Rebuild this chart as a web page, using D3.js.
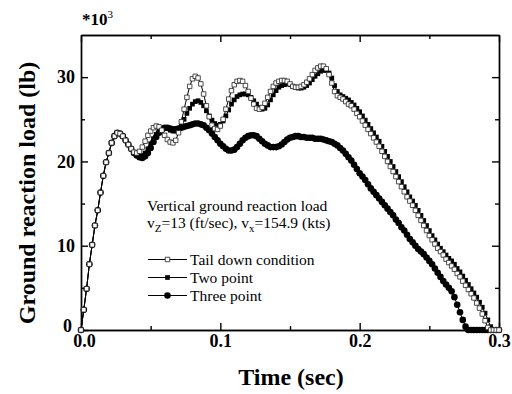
<!DOCTYPE html>
<html lang="en">
<head>
<meta charset="UTF-8">
<script src="https://d3js.org/d3.v7.min.js"></script>
<style>
body { margin: 0; background: #fff; }
svg { font-family: "Liberation Serif", "Times New Roman", serif; }
.axis path, .axis line { stroke: #000; stroke-width: 1.4; }
.axis text { font-family: "Liberation Serif", serif; font-size: 18px; font-weight: bold; fill: #000; }
.curve { fill: none; stroke: #000; stroke-width: 1; }
.note { font-size: 15.5px; fill: #000; }
.title { font-size: 24px; font-weight: bold; fill: #000; }
</style>
</head>
<body>
<svg class="chart" width="512" height="394"></svg>
<script>
// sample times in ms (shared by all three runs)
const timeMs = [
  0, 2, 4, 6, 8, 10, 12, 14, 16, 18, 20, 22, 24, 26, 28,
  30, 32, 34, 36, 38, 40, 42, 44, 46, 48, 50, 52, 54, 56, 58, 60,
  62, 64, 66, 68, 70, 72, 74, 76, 78, 80, 82, 84,
  86, 88, 90, 92, 94, 96, 98, 100, 102, 104, 106, 108,
  110, 112, 114, 116, 118, 120, 122, 124, 126, 128, 130, 132,
  134, 136, 138, 140, 142, 144, 146, 148, 150, 152, 154, 156,
  158, 160, 162, 164, 166, 168, 170, 172, 174, 176, 178, 180,
  182, 184, 186, 188, 190, 192, 194, 196, 198, 200, 202, 204,
  206, 208, 210, 212, 214, 216, 218, 220, 222, 224, 226, 228,
  230, 232, 234, 236, 238, 240, 242, 244, 246, 248, 250, 252,
  254, 256, 258, 260, 262, 264, 266, 268, 270, 272, 274, 276,
  278, 280, 282, 284, 286, 288, 290, 292, 294, 296, 298, 300
];

// loads in 10^3 lb
const tailDown = [
  0, 2.4, 4.9, 7.8, 10.1, 12.4, 14.2, 16.3, 18.3, 19.9, 21.0, 22.2, 23.0, 23.4, 23.3,
  23.0, 22.5, 22.0, 21.5, 21.1, 21.0, 21.2, 21.7, 22.4, 23.1, 23.6, 24.0, 24.2, 24.1, 23.7, 23.1,
  22.6, 22.3, 22.2, 22.5, 23.4, 24.7, 26.2, 27.6, 28.9, 29.8, 30.1, 29.9,
  29.2, 28.0, 26.6, 25.3, 24.3, 23.9, 23.8, 24.2, 25.0, 26.2, 27.4, 28.4,
  29.1, 29.5, 29.6, 29.5, 29.0, 28.3, 27.5, 26.8, 26.3, 26.2, 26.4, 26.9,
  27.6, 28.3, 28.9, 29.3, 29.5, 29.6, 29.6, 29.5, 29.2, 28.9, 28.8, 28.8,
  28.9, 29.1, 29.4, 29.8, 30.3, 30.8, 31.1, 31.3, 31.3, 31.0, 30.3, 29.3,
  28.3, 27.8, 27.6, 27.4, 27.1, 26.8, 26.6, 26.2, 25.7, 25.3, 24.8, 24.3,
  23.8, 23.3, 22.8, 22.3, 21.8, 21.2, 20.6, 20.0, 19.4, 18.8, 18.2, 17.6,
  17.0, 16.4, 15.8, 15.3, 14.8, 14.2, 13.6, 13.0, 12.4, 11.8, 11.2, 10.7,
  10.2, 9.7, 9.3, 8.9, 8.4, 8.0, 7.6, 7.2, 6.7, 6.3, 5.8, 5.3,
  4.8, 4.3, 3.8, 3.2, 2.6, 1.9, 1.1, 0.3, 0, 0, 0, 0
];
const twoPoint = [
  0, 2.4, 4.9, 7.8, 10.1, 12.4, 14.2, 16.3, 18.3, 19.9, 21.0, 22.2, 23.0, 23.4, 23.3,
  23.0, 22.5, 22.0, 21.5, 21.0, 20.7, 20.6, 20.7, 21.0, 21.5, 22.1, 22.7, 23.2, 23.6, 23.9, 24.0,
  23.9, 23.7, 23.6, 23.6, 23.9, 24.4, 25.0, 25.7, 26.3, 26.8, 27.1, 27.2,
  27.0, 26.6, 26.0, 25.4, 24.9, 24.5, 24.3, 24.4, 24.8, 25.4, 26.1, 26.8,
  27.3, 27.7, 27.9, 28.0, 28.0, 27.9, 27.6, 27.2, 26.8, 26.4, 26.2, 26.3,
  26.7, 27.3, 27.9, 28.4, 28.8, 29.0, 29.1, 29.2, 29.1, 28.9, 28.8, 28.7,
  28.7, 28.8, 29.0, 29.3, 29.7, 30.1, 30.4, 30.7, 30.8, 30.8, 30.5, 29.9,
  29.0, 28.3, 27.9, 27.7, 27.5, 27.3, 27.0, 26.7, 26.3, 25.9, 25.4, 24.9,
  24.4, 23.9, 23.4, 22.9, 22.4, 21.8, 21.2, 20.6, 20.0, 19.4, 18.8, 18.2,
  17.6, 17.0, 16.4, 15.8, 15.3, 14.8, 14.2, 13.6, 13.0, 12.4, 11.8, 11.2,
  10.7, 10.2, 9.7, 9.3, 8.9, 8.5, 8.2, 7.8, 7.3, 6.9, 6.4, 5.9,
  5.4, 4.9, 4.4, 3.9, 3.3, 2.7, 2.0, 1.2, 0.4, 0, 0, 0
];
const threePoint = [
  0, 2.4, 4.9, 7.8, 10.1, 12.4, 14.2, 16.3, 18.3, 19.9, 21.0, 22.2, 23.0, 23.4, 23.3,
  23.0, 22.5, 22.0, 21.5, 21.0, 20.7, 20.5, 20.4, 20.6, 21.0, 21.6, 22.3, 22.9, 23.4, 23.8, 24.0,
  24.0, 23.9, 23.8, 23.8, 23.9, 24.0, 24.1, 24.2, 24.3, 24.4, 24.5, 24.5,
  24.4, 24.3, 24.0, 23.7, 23.3, 22.9, 22.5, 22.1, 21.8, 21.5, 21.3, 21.3,
  21.4, 21.7, 22.1, 22.5, 22.8, 23.0, 23.1, 23.1, 23.0, 22.7, 22.4, 22.1,
  21.9, 21.7, 21.7, 21.7, 21.8, 22.0, 22.3, 22.6, 22.8, 22.9, 23.0, 23.0,
  22.9, 22.9, 22.8, 22.8, 22.8, 22.7, 22.7, 22.7, 22.6, 22.5, 22.4, 22.3,
  22.1, 21.9, 21.6, 21.3, 20.9, 20.5, 20.1, 19.6, 19.1, 18.6, 18.2, 17.8,
  17.3, 16.8, 16.4, 16.0, 15.6, 15.2, 14.8, 14.4, 14.0, 13.6, 13.1, 12.7,
  12.2, 11.8, 11.3, 10.8, 10.4, 10.0, 9.6, 9.3, 9.0, 8.6, 8.2, 7.8,
  7.3, 6.8, 6.3, 5.8, 5.4, 5.0, 4.6, 3.9, 3.0, 2.1, 1.2, 0.4,
  0, 0, 0, 0, 0, 0, 0, 0, 0, 0, 0, 0
];

const xMajor = [0, 0.1, 0.2, 0.3], xMinor = [0.05, 0.15, 0.25];
const yMajor = [0, 10, 20, 30], yMinor = [5, 15, 25];

let svg = d3.select('.chart');

let x = d3.scaleLinear().domain([0, 0.3]).range([81, 499]);
let y = d3.scaleLinear().domain([0, 35]).range([330, 35]);

// frame axes, ticks pointing inward
let axisG = (gen, tr) => svg.append('g').attr('class', 'axis').attr('transform', tr).call(gen);

axisG(d3.axisBottom(x).tickValues(xMinor).tickSizeInner(-4).tickSizeOuter(0).tickFormat(''), 'translate(0,330)');
let xLab = axisG(d3.axisBottom(x).tickValues(xMajor).tickSizeInner(-7).tickSizeOuter(0).tickPadding(4)
  .tickFormat(d3.format('.1f')), 'translate(0,330)');
axisG(d3.axisTop(x).tickValues(xMinor).tickSizeInner(-4).tickSizeOuter(0).tickFormat(''), 'translate(0,35)');
axisG(d3.axisTop(x).tickValues(xMajor).tickSizeInner(-7).tickSizeOuter(0).tickFormat(''), 'translate(0,35)');
axisG(d3.axisLeft(y).tickValues(yMinor).tickSizeInner(-4).tickSizeOuter(0).tickFormat(''), 'translate(81,0)');
let yLab = axisG(d3.axisLeft(y).tickValues(yMajor).tickSizeInner(-7).tickSizeOuter(0).tickPadding(6), 'translate(81,0)');
axisG(d3.axisRight(y).tickValues(yMinor).tickSizeInner(-4).tickSizeOuter(0).tickFormat(''), 'translate(499,0)');
axisG(d3.axisRight(y).tickValues(yMajor).tickSizeInner(-7).tickSizeOuter(0).tickFormat(''), 'translate(499,0)');

// keep the two corner zeros apart
yLab.selectAll('.tick text').filter(d => d === 0).attr('x', -9).attr('dy', '0.1em');
xLab.selectAll('.tick text').filter(d => d === 0).attr('dx', 3);

// series
const series = [
  { name: 'Three point', values: threePoint, type: 'circle' },
  { name: 'Two point', values: twoPoint, type: 'filled' },
  { name: 'Tail down condition', values: tailDown, type: 'open' }
];

let symbolFor = t => t === 'circle'
  ? d3.symbol().type(d3.symbolCircle).size(34)
  : d3.symbol().type(d3.symbolSquare).size(t === 'open' ? 20 : 22);

let styleMark = (sel, t) => sel
  .attr('fill', t === 'open' ? '#fff' : '#000')
  .attr('stroke', t === 'open' ? '#222' : 'none')
  .attr('stroke-width', 0.8);

let line = d3.line()
  .x((d, i) => x(timeMs[i] / 1000))
  .y(d => y(d));

series.forEach(s => {
  svg.append('path').datum(s.values).attr('class', 'curve').attr('d', line);
  svg.append('g').selectAll('path')
    .data(s.values)
    .enter().append('path')
    .attr('d', symbolFor(s.type))
    .attr('transform', (d, i) => 'translate(' + x(timeMs[i] / 1000) + ',' + y(d) + ')')
    .call(styleMark, s.type);
});

// annotation
svg.append('text').attr('class', 'note').attr('x', 147).attr('y', 211)
  .text('Vertical ground reaction load');
let sub = svg.append('text').attr('class', 'note').attr('x', 147).attr('y', 228);
sub.append('tspan').text('v');
sub.append('tspan').attr('font-size', 11).attr('dy', 4).text('Z');
sub.append('tspan').attr('dy', -4).text('=13 (ft/sec), v');
sub.append('tspan').attr('font-size', 11).attr('dy', 4).text('x');
sub.append('tspan').attr('dy', -4).text('=154.9 (kts)');

// legend
let legend = svg.append('g').selectAll('g')
  .data(series.slice().reverse())
  .enter().append('g')
  .attr('transform', (d, i) => 'translate(148,' + (259.5 + i * 18) + ')');
legend.append('line').attr('x1', 0).attr('x2', 39).attr('stroke', '#000').attr('stroke-width', 1);
legend.append('path')
  .attr('transform', 'translate(19.5,0)')
  .attr('d', d => symbolFor(d.type)())
  .each(function (d) { d3.select(this).call(styleMark, d.type); });
legend.append('text').attr('class', 'note').attr('x', 42).attr('y', 5).text(d => d.name);

// titles
svg.append('text').attr('class', 'title').attr('x', 291).attr('y', 385)
  .attr('text-anchor', 'middle').text('Time (sec)');
svg.append('text').attr('class', 'title').attr('text-anchor', 'middle')
  .attr('transform', 'translate(35,193) rotate(-90)').text('Ground reaction load (lb)');

let mult = svg.append('text').attr('x', 82).attr('y', 25)
  .attr('font-size', 17).attr('font-weight', 'bold');
mult.append('tspan').text('*10');
mult.append('tspan').attr('font-size', 11).attr('font-weight', 'normal').attr('dy', -7).text('3');
</script>
</body>
</html>
